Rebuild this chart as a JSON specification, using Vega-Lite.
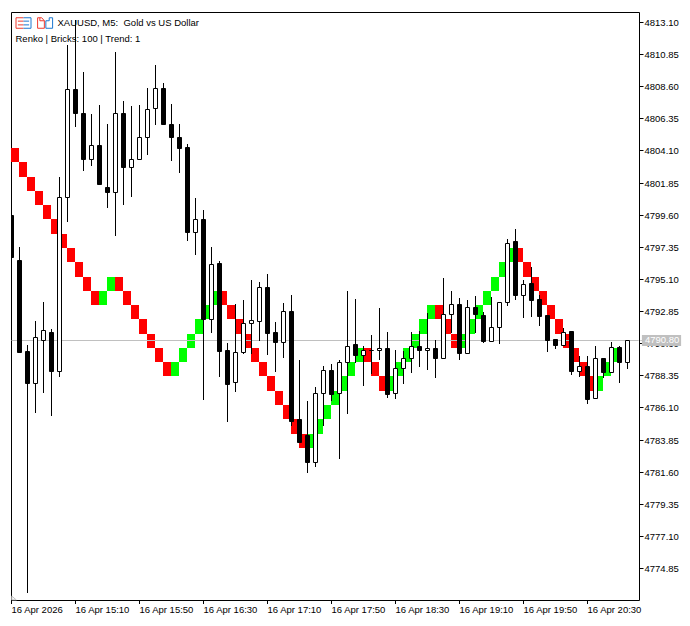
{
  "$schema": "https://vega.github.io/schema/vega-lite/v6.json",
  "autosize": "none",
  "padding": {"left": 11, "top": 12, "right": 51, "bottom": 26},
  "width": 628,
  "height": 588,
  "background": "#ffffff",
  "view": {"stroke": "#000000", "strokeWidth": 1, "fill": "#ffffff"},
  "config": {"font": "Liberation Sans"},
  "datasets": {
    "bricks": [
      {"t":"2026-04-16T14:30Z","t2":"2026-04-16T14:35Z","top":4804.27,"bottom":4803.27,"dir":"down"},
      {"t":"2026-04-16T14:35Z","t2":"2026-04-16T14:40Z","top":4803.27,"bottom":4802.27,"dir":"down"},
      {"t":"2026-04-16T14:40Z","t2":"2026-04-16T14:45Z","top":4802.27,"bottom":4801.27,"dir":"down"},
      {"t":"2026-04-16T14:45Z","t2":"2026-04-16T14:50Z","top":4801.27,"bottom":4800.27,"dir":"down"},
      {"t":"2026-04-16T14:50Z","t2":"2026-04-16T14:55Z","top":4800.27,"bottom":4799.27,"dir":"down"},
      {"t":"2026-04-16T14:55Z","t2":"2026-04-16T15:00Z","top":4799.27,"bottom":4798.27,"dir":"down"},
      {"t":"2026-04-16T15:00Z","t2":"2026-04-16T15:05Z","top":4798.27,"bottom":4797.27,"dir":"down"},
      {"t":"2026-04-16T15:05Z","t2":"2026-04-16T15:10Z","top":4797.27,"bottom":4796.27,"dir":"down"},
      {"t":"2026-04-16T15:10Z","t2":"2026-04-16T15:15Z","top":4796.27,"bottom":4795.27,"dir":"down"},
      {"t":"2026-04-16T15:15Z","t2":"2026-04-16T15:20Z","top":4795.27,"bottom":4794.27,"dir":"down"},
      {"t":"2026-04-16T15:20Z","t2":"2026-04-16T15:25Z","top":4794.27,"bottom":4793.27,"dir":"down"},
      {"t":"2026-04-16T15:25Z","t2":"2026-04-16T15:30Z","top":4794.27,"bottom":4793.27,"dir":"up"},
      {"t":"2026-04-16T15:30Z","t2":"2026-04-16T15:35Z","top":4795.27,"bottom":4794.27,"dir":"up"},
      {"t":"2026-04-16T15:35Z","t2":"2026-04-16T15:40Z","top":4795.27,"bottom":4794.27,"dir":"down"},
      {"t":"2026-04-16T15:40Z","t2":"2026-04-16T15:45Z","top":4794.27,"bottom":4793.27,"dir":"down"},
      {"t":"2026-04-16T15:45Z","t2":"2026-04-16T15:50Z","top":4793.27,"bottom":4792.27,"dir":"down"},
      {"t":"2026-04-16T15:50Z","t2":"2026-04-16T15:55Z","top":4792.27,"bottom":4791.27,"dir":"down"},
      {"t":"2026-04-16T15:55Z","t2":"2026-04-16T16:00Z","top":4791.27,"bottom":4790.27,"dir":"down"},
      {"t":"2026-04-16T16:00Z","t2":"2026-04-16T16:05Z","top":4790.27,"bottom":4789.27,"dir":"down"},
      {"t":"2026-04-16T16:05Z","t2":"2026-04-16T16:10Z","top":4789.27,"bottom":4788.27,"dir":"down"},
      {"t":"2026-04-16T16:10Z","t2":"2026-04-16T16:15Z","top":4789.27,"bottom":4788.27,"dir":"up"},
      {"t":"2026-04-16T16:15Z","t2":"2026-04-16T16:20Z","top":4790.27,"bottom":4789.27,"dir":"up"},
      {"t":"2026-04-16T16:20Z","t2":"2026-04-16T16:25Z","top":4791.27,"bottom":4790.27,"dir":"up"},
      {"t":"2026-04-16T16:25Z","t2":"2026-04-16T16:30Z","top":4792.27,"bottom":4791.27,"dir":"up"},
      {"t":"2026-04-16T16:30Z","t2":"2026-04-16T16:35Z","top":4793.27,"bottom":4792.27,"dir":"up"},
      {"t":"2026-04-16T16:35Z","t2":"2026-04-16T16:40Z","top":4794.27,"bottom":4793.27,"dir":"up"},
      {"t":"2026-04-16T16:40Z","t2":"2026-04-16T16:45Z","top":4794.27,"bottom":4793.27,"dir":"down"},
      {"t":"2026-04-16T16:45Z","t2":"2026-04-16T16:50Z","top":4793.27,"bottom":4792.27,"dir":"down"},
      {"t":"2026-04-16T16:50Z","t2":"2026-04-16T16:55Z","top":4792.27,"bottom":4791.27,"dir":"down"},
      {"t":"2026-04-16T16:55Z","t2":"2026-04-16T17:00Z","top":4791.27,"bottom":4790.27,"dir":"down"},
      {"t":"2026-04-16T17:00Z","t2":"2026-04-16T17:05Z","top":4790.27,"bottom":4789.27,"dir":"down"},
      {"t":"2026-04-16T17:05Z","t2":"2026-04-16T17:10Z","top":4789.27,"bottom":4788.27,"dir":"down"},
      {"t":"2026-04-16T17:10Z","t2":"2026-04-16T17:15Z","top":4788.27,"bottom":4787.27,"dir":"down"},
      {"t":"2026-04-16T17:15Z","t2":"2026-04-16T17:20Z","top":4787.27,"bottom":4786.27,"dir":"down"},
      {"t":"2026-04-16T17:20Z","t2":"2026-04-16T17:25Z","top":4786.27,"bottom":4785.27,"dir":"down"},
      {"t":"2026-04-16T17:25Z","t2":"2026-04-16T17:30Z","top":4785.27,"bottom":4784.27,"dir":"down"},
      {"t":"2026-04-16T17:30Z","t2":"2026-04-16T17:35Z","top":4784.27,"bottom":4783.27,"dir":"down"},
      {"t":"2026-04-16T17:35Z","t2":"2026-04-16T17:40Z","top":4784.27,"bottom":4783.27,"dir":"up"},
      {"t":"2026-04-16T17:40Z","t2":"2026-04-16T17:45Z","top":4785.27,"bottom":4784.27,"dir":"up"},
      {"t":"2026-04-16T17:45Z","t2":"2026-04-16T17:50Z","top":4786.27,"bottom":4785.27,"dir":"up"},
      {"t":"2026-04-16T17:50Z","t2":"2026-04-16T17:55Z","top":4787.27,"bottom":4786.27,"dir":"up"},
      {"t":"2026-04-16T17:55Z","t2":"2026-04-16T18:00Z","top":4788.27,"bottom":4787.27,"dir":"up"},
      {"t":"2026-04-16T18:00Z","t2":"2026-04-16T18:05Z","top":4789.27,"bottom":4788.27,"dir":"up"},
      {"t":"2026-04-16T18:05Z","t2":"2026-04-16T18:10Z","top":4790.27,"bottom":4789.27,"dir":"up"},
      {"t":"2026-04-16T18:10Z","t2":"2026-04-16T18:15Z","top":4790.27,"bottom":4789.27,"dir":"down"},
      {"t":"2026-04-16T18:15Z","t2":"2026-04-16T18:20Z","top":4789.27,"bottom":4788.27,"dir":"down"},
      {"t":"2026-04-16T18:20Z","t2":"2026-04-16T18:25Z","top":4788.27,"bottom":4787.27,"dir":"down"},
      {"t":"2026-04-16T18:25Z","t2":"2026-04-16T18:30Z","top":4788.27,"bottom":4787.27,"dir":"up"},
      {"t":"2026-04-16T18:30Z","t2":"2026-04-16T18:35Z","top":4789.27,"bottom":4788.27,"dir":"up"},
      {"t":"2026-04-16T18:35Z","t2":"2026-04-16T18:40Z","top":4790.27,"bottom":4789.27,"dir":"up"},
      {"t":"2026-04-16T18:40Z","t2":"2026-04-16T18:45Z","top":4791.27,"bottom":4790.27,"dir":"up"},
      {"t":"2026-04-16T18:45Z","t2":"2026-04-16T18:50Z","top":4792.27,"bottom":4791.27,"dir":"up"},
      {"t":"2026-04-16T18:50Z","t2":"2026-04-16T18:55Z","top":4793.27,"bottom":4792.27,"dir":"up"},
      {"t":"2026-04-16T18:55Z","t2":"2026-04-16T19:00Z","top":4793.27,"bottom":4792.27,"dir":"down"},
      {"t":"2026-04-16T19:00Z","t2":"2026-04-16T19:05Z","top":4792.27,"bottom":4791.27,"dir":"down"},
      {"t":"2026-04-16T19:05Z","t2":"2026-04-16T19:10Z","top":4791.27,"bottom":4790.27,"dir":"down"},
      {"t":"2026-04-16T19:10Z","t2":"2026-04-16T19:15Z","top":4791.27,"bottom":4790.27,"dir":"up"},
      {"t":"2026-04-16T19:15Z","t2":"2026-04-16T19:20Z","top":4792.27,"bottom":4791.27,"dir":"up"},
      {"t":"2026-04-16T19:20Z","t2":"2026-04-16T19:25Z","top":4793.27,"bottom":4792.27,"dir":"up"},
      {"t":"2026-04-16T19:25Z","t2":"2026-04-16T19:30Z","top":4794.27,"bottom":4793.27,"dir":"up"},
      {"t":"2026-04-16T19:30Z","t2":"2026-04-16T19:35Z","top":4795.27,"bottom":4794.27,"dir":"up"},
      {"t":"2026-04-16T19:35Z","t2":"2026-04-16T19:40Z","top":4796.27,"bottom":4795.27,"dir":"up"},
      {"t":"2026-04-16T19:40Z","t2":"2026-04-16T19:45Z","top":4797.27,"bottom":4796.27,"dir":"up"},
      {"t":"2026-04-16T19:45Z","t2":"2026-04-16T19:50Z","top":4797.27,"bottom":4796.27,"dir":"down"},
      {"t":"2026-04-16T19:50Z","t2":"2026-04-16T19:55Z","top":4796.27,"bottom":4795.27,"dir":"down"},
      {"t":"2026-04-16T19:55Z","t2":"2026-04-16T20:00Z","top":4795.27,"bottom":4794.27,"dir":"down"},
      {"t":"2026-04-16T20:00Z","t2":"2026-04-16T20:05Z","top":4794.27,"bottom":4793.27,"dir":"down"},
      {"t":"2026-04-16T20:05Z","t2":"2026-04-16T20:10Z","top":4793.27,"bottom":4792.27,"dir":"down"},
      {"t":"2026-04-16T20:10Z","t2":"2026-04-16T20:15Z","top":4792.27,"bottom":4791.27,"dir":"down"},
      {"t":"2026-04-16T20:15Z","t2":"2026-04-16T20:20Z","top":4791.27,"bottom":4790.27,"dir":"down"},
      {"t":"2026-04-16T20:20Z","t2":"2026-04-16T20:25Z","top":4790.27,"bottom":4789.27,"dir":"down"},
      {"t":"2026-04-16T20:25Z","t2":"2026-04-16T20:30Z","top":4789.27,"bottom":4788.27,"dir":"down"},
      {"t":"2026-04-16T20:30Z","t2":"2026-04-16T20:35Z","top":4788.27,"bottom":4787.27,"dir":"down"},
      {"t":"2026-04-16T20:35Z","t2":"2026-04-16T20:40Z","top":4788.27,"bottom":4787.27,"dir":"up"},
      {"t":"2026-04-16T20:40Z","t2":"2026-04-16T20:45Z","top":4789.27,"bottom":4788.27,"dir":"up"},
      {"t":"2026-04-16T20:45Z","t2":"2026-04-16T20:50Z","top":4790.27,"bottom":4789.27,"dir":"up"}
    ],
    "candles": [
      {"t":"2026-04-16T14:30Z","open":4799.58,"high":4799.79,"low":4796.29,"close":4796.64},
      {"t":"2026-04-16T14:35Z","open":4796.43,"high":4797.34,"low":4789.98,"close":4789.98},
      {"t":"2026-04-16T14:40Z","open":4790.05,"high":4790.47,"low":4773.10,"close":4787.83},
      {"t":"2026-04-16T14:45Z","open":4787.83,"high":4792.15,"low":4785.72,"close":4791.03},
      {"t":"2026-04-16T14:50Z","open":4790.82,"high":4793.48,"low":4787.13,"close":4791.52},
      {"t":"2026-04-16T14:55Z","open":4791.38,"high":4791.59,"low":4785.52,"close":4788.65},
      {"t":"2026-04-16T15:00Z","open":4788.65,"high":4802.24,"low":4788.23,"close":4800.84},
      {"t":"2026-04-16T15:05Z","open":4800.82,"high":4811.49,"low":4799.11,"close":4808.38},
      {"t":"2026-04-16T15:10Z","open":4808.40,"high":4813.24,"low":4805.76,"close":4806.74},
      {"t":"2026-04-16T15:15Z","open":4806.74,"high":4809.60,"low":4802.68,"close":4803.52},
      {"t":"2026-04-16T15:20Z","open":4803.52,"high":4806.65,"low":4803.03,"close":4804.48},
      {"t":"2026-04-16T15:25Z","open":4804.48,"high":4807.28,"low":4801.77,"close":4801.77},
      {"t":"2026-04-16T15:30Z","open":4801.54,"high":4805.95,"low":4800.07,"close":4801.21},
      {"t":"2026-04-16T15:35Z","open":4801.21,"high":4811.00,"low":4798.13,"close":4806.72},
      {"t":"2026-04-16T15:40Z","open":4806.72,"high":4807.57,"low":4800.28,"close":4802.96},
      {"t":"2026-04-16T15:45Z","open":4802.96,"high":4807.21,"low":4800.86,"close":4803.48},
      {"t":"2026-04-16T15:50Z","open":4803.48,"high":4807.28,"low":4803.48,"close":4805.04},
      {"t":"2026-04-16T15:55Z","open":4805.04,"high":4808.48,"low":4803.78,"close":4807.00},
      {"t":"2026-04-16T16:00Z","open":4807.07,"high":4810.09,"low":4805.88,"close":4808.48},
      {"t":"2026-04-16T16:05Z","open":4808.48,"high":4808.83,"low":4805.97,"close":4805.97},
      {"t":"2026-04-16T16:10Z","open":4805.97,"high":4807.35,"low":4803.38,"close":4805.04},
      {"t":"2026-04-16T16:15Z","open":4805.04,"high":4805.95,"low":4802.54,"close":4804.29},
      {"t":"2026-04-16T16:20Z","open":4804.34,"high":4804.55,"low":4797.78,"close":4798.41},
      {"t":"2026-04-16T16:25Z","open":4798.41,"high":4800.77,"low":4796.78,"close":4799.28},
      {"t":"2026-04-16T16:30Z","open":4799.30,"high":4799.93,"low":4786.62,"close":4792.26},
      {"t":"2026-04-16T16:35Z","open":4792.27,"high":4797.34,"low":4791.33,"close":4796.13},
      {"t":"2026-04-16T16:40Z","open":4796.22,"high":4796.36,"low":4788.25,"close":4790.07},
      {"t":"2026-04-16T16:45Z","open":4790.12,"high":4790.59,"low":4785.10,"close":4787.76},
      {"t":"2026-04-16T16:50Z","open":4787.86,"high":4793.34,"low":4787.20,"close":4789.96},
      {"t":"2026-04-16T16:55Z","open":4789.96,"high":4793.62,"low":4789.84,"close":4791.99},
      {"t":"2026-04-16T17:00Z","open":4791.98,"high":4795.03,"low":4789.84,"close":4792.20},
      {"t":"2026-04-16T17:05Z","open":4792.13,"high":4794.89,"low":4790.77,"close":4794.51},
      {"t":"2026-04-16T17:10Z","open":4794.51,"high":4795.42,"low":4789.77,"close":4791.33},
      {"t":"2026-04-16T17:15Z","open":4791.36,"high":4792.08,"low":4788.60,"close":4790.70},
      {"t":"2026-04-16T17:20Z","open":4790.70,"high":4793.39,"low":4789.58,"close":4792.83},
      {"t":"2026-04-16T17:25Z","open":4792.83,"high":4793.97,"low":4784.80,"close":4785.17},
      {"t":"2026-04-16T17:30Z","open":4785.27,"high":4789.42,"low":4783.70,"close":4783.70},
      {"t":"2026-04-16T17:35Z","open":4784.15,"high":4786.55,"low":4781.48,"close":4782.30},
      {"t":"2026-04-16T17:40Z","open":4782.30,"high":4787.51,"low":4781.90,"close":4787.09},
      {"t":"2026-04-16T17:45Z","open":4787.09,"high":4789.00,"low":4784.82,"close":4788.70},
      {"t":"2026-04-16T17:50Z","open":4788.70,"high":4789.14,"low":4786.57,"close":4787.06},
      {"t":"2026-04-16T17:55Z","open":4787.09,"high":4789.42,"low":4782.46,"close":4789.26},
      {"t":"2026-04-16T18:00Z","open":4789.26,"high":4794.25,"low":4785.66,"close":4790.40},
      {"t":"2026-04-16T18:05Z","open":4790.52,"high":4793.67,"low":4789.19,"close":4789.75},
      {"t":"2026-04-16T18:10Z","open":4789.75,"high":4790.40,"low":4787.62,"close":4790.10},
      {"t":"2026-04-16T18:15Z","open":4790.10,"high":4791.15,"low":4788.44,"close":4790.10},
      {"t":"2026-04-16T18:20Z","open":4790.10,"high":4793.04,"low":4789.42,"close":4790.24},
      {"t":"2026-04-16T18:25Z","open":4790.24,"high":4791.36,"low":4786.78,"close":4787.06},
      {"t":"2026-04-16T18:30Z","open":4787.13,"high":4790.12,"low":4786.71,"close":4788.84},
      {"t":"2026-04-16T18:35Z","open":4788.84,"high":4790.05,"low":4787.76,"close":4789.54},
      {"t":"2026-04-16T18:40Z","open":4789.54,"high":4791.38,"low":4788.53,"close":4790.38},
      {"t":"2026-04-16T18:45Z","open":4790.38,"high":4791.43,"low":4788.95,"close":4790.10},
      {"t":"2026-04-16T18:50Z","open":4790.10,"high":4792.69,"low":4788.70,"close":4790.24},
      {"t":"2026-04-16T18:55Z","open":4790.24,"high":4790.80,"low":4788.18,"close":4789.58},
      {"t":"2026-04-16T19:00Z","open":4789.58,"high":4795.17,"low":4789.58,"close":4792.62},
      {"t":"2026-04-16T19:05Z","open":4792.62,"high":4794.25,"low":4791.31,"close":4793.32},
      {"t":"2026-04-16T19:10Z","open":4793.32,"high":4793.74,"low":4789.42,"close":4789.93},
      {"t":"2026-04-16T19:15Z","open":4789.93,"high":4793.62,"low":4789.93,"close":4793.11},
      {"t":"2026-04-16T19:20Z","open":4793.11,"high":4793.90,"low":4791.33,"close":4792.66},
      {"t":"2026-04-16T19:25Z","open":4792.55,"high":4792.76,"low":4790.63,"close":4790.77},
      {"t":"2026-04-16T19:30Z","open":4790.73,"high":4793.81,"low":4790.73,"close":4791.75},
      {"t":"2026-04-16T19:35Z","open":4791.75,"high":4793.50,"low":4790.56,"close":4793.50},
      {"t":"2026-04-16T19:40Z","open":4793.50,"high":4797.90,"low":4793.20,"close":4797.60},
      {"t":"2026-04-16T19:45Z","open":4797.76,"high":4798.60,"low":4793.62,"close":4793.99},
      {"t":"2026-04-16T19:50Z","open":4793.99,"high":4795.03,"low":4792.38,"close":4794.72},
      {"t":"2026-04-16T19:55Z","open":4794.82,"high":4795.94,"low":4792.45,"close":4793.65},
      {"t":"2026-04-16T20:00Z","open":4793.67,"high":4793.97,"low":4791.80,"close":4792.50},
      {"t":"2026-04-16T20:05Z","open":4792.55,"high":4792.55,"low":4790.00,"close":4790.82},
      {"t":"2026-04-16T20:10Z","open":4790.89,"high":4790.89,"low":4790.21,"close":4790.49},
      {"t":"2026-04-16T20:15Z","open":4790.49,"high":4791.64,"low":4790.49,"close":4791.40},
      {"t":"2026-04-16T20:20Z","open":4791.43,"high":4791.43,"low":4788.37,"close":4788.67},
      {"t":"2026-04-16T20:25Z","open":4788.67,"high":4789.70,"low":4788.21,"close":4788.98},
      {"t":"2026-04-16T20:30Z","open":4789.00,"high":4789.70,"low":4786.36,"close":4786.69},
      {"t":"2026-04-16T20:35Z","open":4786.78,"high":4790.40,"low":4786.69,"close":4789.54},
      {"t":"2026-04-16T20:40Z","open":4789.54,"high":4789.54,"low":4788.14,"close":4788.58},
      {"t":"2026-04-16T20:45Z","open":4788.58,"high":4790.68,"low":4788.58,"close":4790.31},
      {"t":"2026-04-16T20:50Z","open":4790.33,"high":4790.40,"low":4787.83,"close":4789.30},
      {"t":"2026-04-16T20:55Z","open":4789.30,"high":4790.80,"low":4788.79,"close":4790.80}
    ],
    "bid": [
      {"t":"2026-04-16T14:30Z","t2":"2026-04-16T21:02Z","price":4790.8},
      {"t":"2026-04-16T21:03Z","t2":"2026-04-16T21:04Z","price":4790.8}
    ],
    "tag": [
      {"t":"2026-04-16T21:04Z","t2":"2026-04-16T21:28:30Z","top":4791.17,"bottom":4790.42,"price":4790.8,"text":"4790.80"}
    ],
    "captions": [
      {"t":"2026-04-16T14:58:45Z","price":4813.0,"text":"XAUUSD, M5:\u00a0\u00a0Gold vs US Dollar"},
      {"t":"2026-04-16T14:32:30Z","price":4811.94,"text":"Renko | Bricks: 100 | Trend: 1"}
    ],
    "icons": [
      {"t":"2026-04-16T14:37:30Z","price":4813.0,"part":"list left"},
      {"t":"2026-04-16T14:37:30Z","price":4813.0,"part":"list right"},
      {"t":"2026-04-16T14:51:00Z","price":4813.0,"part":"sheet left"},
      {"t":"2026-04-16T14:51:00Z","price":4813.0,"part":"sheet right"},
      {"t":"2026-04-16T14:31:34Z","price":4772.75,"part":"shift corner"}
    ]
  },
  "layer": [
    {
      "data": {"name": "bricks"},
      "mark": {"type": "bar", "xOffset": -0.5, "x2Offset": -0.5, "clip": true},
      "encoding": {
        "x": {
          "field": "t",
          "type": "temporal",
          "title": null,
          "scale": {"type": "utc", "padding": 0, "domain": ["2026-04-16T14:29:41.250Z", "2026-04-16T21:02:11.250Z"]},
          "axis": {
            "values": [
              {"year": 2026, "month": 4, "date": 16, "hours": 14, "minutes": 30, "utc": true},
              {"year": 2026, "month": 4, "date": 16, "hours": 15, "minutes": 10, "utc": true},
              {"year": 2026, "month": 4, "date": 16, "hours": 15, "minutes": 50, "utc": true},
              {"year": 2026, "month": 4, "date": 16, "hours": 16, "minutes": 30, "utc": true},
              {"year": 2026, "month": 4, "date": 16, "hours": 17, "minutes": 10, "utc": true},
              {"year": 2026, "month": 4, "date": 16, "hours": 17, "minutes": 50, "utc": true},
              {"year": 2026, "month": 4, "date": 16, "hours": 18, "minutes": 30, "utc": true},
              {"year": 2026, "month": 4, "date": 16, "hours": 19, "minutes": 10, "utc": true},
              {"year": 2026, "month": 4, "date": 16, "hours": 19, "minutes": 50, "utc": true},
              {"year": 2026, "month": 4, "date": 16, "hours": 20, "minutes": 30, "utc": true}
            ],
            "labelExpr": "utcFormat(datum.value, '%H:%M') == '14:30' ? '16 Apr 2026' : utcFormat(datum.value, '%-d %b %H:%M')",
            "labelAlign": "left",
            "labelBaseline": "top",
            "labelFont": "Liberation Sans",
            "labelFontSize": 9.5,
            "labelColor": "#000000",
            "labelPadding": 1,
            "labelOverlap": false,
            "labelBound": false,
            "labelFlush": false,
            "domain": false,
            "grid": false,
            "ticks": true,
            "tickSize": 4,
            "tickColor": "#000000",
            "tickRound": false,
            "translate": 0
          }
        },
        "x2": {"field": "t2"},
        "y": {
          "field": "top",
          "type": "quantitative",
          "title": null,
          "scale": {"domain": [4772.61, 4813.8], "nice": false, "zero": false, "round": true},
          "axis": {
            "orient": "right",
            "values": [4774.85, 4777.1, 4779.35, 4781.6, 4783.85, 4786.1, 4788.35, 4790.6, 4792.85, 4795.1, 4797.35, 4799.6, 4801.85, 4804.1, 4806.35, 4808.6, 4810.85, 4813.1],
            "tickCount": 30,
            "format": ".2f",
            "labelFont": "Liberation Sans",
            "labelFontSize": 9.5,
            "labelColor": "#000000",
            "labelPadding": 1,
            "labelOverlap": false,
            "labelBound": false,
            "labelFlush": false,
            "domain": false,
            "grid": false,
            "tickSize": 4,
            "tickColor": "#000000"
          }
        },
        "y2": {"field": "bottom"},
        "fill": {"field": "dir", "type": "nominal", "legend": null, "scale": {"domain": ["up", "down"], "range": ["#00ff00", "#ff0000"]}}
      }
    },
    {
      "data": {"name": "bid"},
      "mark": {"type": "rule", "color": "#c0c0c0", "strokeWidth": 1, "yOffset": 0.5},
      "encoding": {
        "x": {"field": "t", "type": "temporal"},
        "x2": {"field": "t2"},
        "y": {"field": "price", "type": "quantitative"}
      }
    },
    {
      "data": {"name": "candles"},
      "mark": {"type": "rule", "color": "#000000", "strokeWidth": 1, "clip": true},
      "encoding": {
        "x": {"field": "t", "type": "temporal"},
        "y": {"field": "low", "type": "quantitative"},
        "y2": {"field": "high"}
      }
    },
    {
      "data": {"name": "candles"},
      "mark": {"type": "bar", "width": 4, "stroke": "#000000", "strokeWidth": 1, "yOffset": 0.5, "y2Offset": 0.5, "clip": true},
      "encoding": {
        "x": {"field": "t", "type": "temporal"},
        "y": {"field": "open", "type": "quantitative"},
        "y2": {"field": "close"},
        "fill": {"condition": {"test": "datum.close > datum.open", "value": "#ffffff"}, "value": "#000000"}
      }
    },
    {
      "data": {"name": "icons"},
      "mark": {"type": "point", "filled": false, "size": 225, "strokeWidth": 1, "opacity": 1},
      "encoding": {
        "x": {"field": "t", "type": "temporal"},
        "y": {"field": "price", "type": "quantitative"},
        "shape": {
          "field": "part",
          "type": "nominal",
          "legend": null,
          "scale": {
            "domain": ["list left", "list right", "sheet left", "sheet right", "shift corner"],
            "range": [
              "M0,-0.7H-1V0.7H0M-0.75,-0.25H0M-0.75,0.25H0",
              "M0,-0.7H1V0.7H0M0,-0.25H0.75M0,0.25H0.75",
              "M-1,-0.7H-0.45L-0.1,-0.3V0.7H-1ZM-0.7,-0.7V-0.3H-0.1",
              "M0.1,-0.3V0.7H1V-0.7H0.55V-0.3H0.1",
              "M-0.3,-0.25L0.3,0.25H-0.3Z"
            ]
          }
        },
        "stroke": {
          "field": "part",
          "type": "nominal",
          "legend": null,
          "scale": {
            "domain": ["list left", "list right", "sheet left", "sheet right", "shift corner"],
            "range": ["#f03a2e", "#1c78d0", "#f03a2e", "#1c78d0", "#c0c0c0"]
          }
        }
      }
    },
    {
      "data": {"name": "captions"},
      "mark": {"type": "text", "align": "left", "baseline": "middle", "font": "Liberation Sans", "fontSize": 9.5, "color": "#000000"},
      "encoding": {
        "x": {"field": "t", "type": "temporal"},
        "y": {"field": "price", "type": "quantitative"},
        "text": {"field": "text", "type": "nominal"}
      }
    },
    {
      "data": {"name": "tag"},
      "mark": {"type": "bar", "fill": "#c0c0c0", "stroke": null},
      "encoding": {
        "x": {"field": "t", "type": "temporal"},
        "x2": {"field": "t2"},
        "y": {"field": "top", "type": "quantitative"},
        "y2": {"field": "bottom"}
      }
    },
    {
      "data": {"name": "tag"},
      "mark": {"type": "text", "align": "left", "baseline": "middle", "dx": 3, "font": "Liberation Sans", "fontSize": 9.5, "color": "#ffffff"},
      "encoding": {
        "x": {"field": "t", "type": "temporal"},
        "y": {"field": "price", "type": "quantitative"},
        "text": {"field": "text", "type": "nominal"}
      }
    }
  ]
}
